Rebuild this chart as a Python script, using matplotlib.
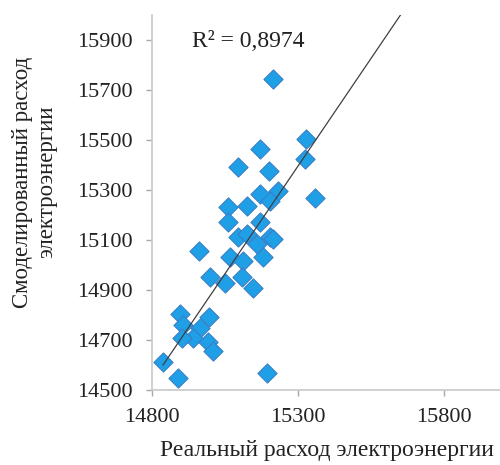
import matplotlib
matplotlib.use("Agg")
import matplotlib.pyplot as plt
import numpy as np

real = [15215, 15329, 15325, 15359, 15171, 15095, 15202, 15232, 15171, 15205,
        15061, 15126, 15061, 15171, 15095, 15126, 15205, 15160, 15215, 14961,
        15068, 15181, 15112, 14999, 15051, 15109, 15147, 14896, 14996, 14906,
        14965, 14941, 14903, 14992, 15009, 14838, 14889, 15195]
model = [15747, 15506, 15425, 15268, 15465, 15393, 15377, 15296, 15284, 15256,
         15232, 15236, 15172, 15172, 15111, 15123, 15111, 15083, 15103, 15055,
         15031, 15031, 15015, 14954, 14930, 14954, 14910, 14806, 14794, 14761,
         14749, 14709, 14709, 14693, 14657, 14613, 14548, 14568]

# linear trendline
trend_slope = 1.721
trend_intercept = -10935.6

x_ticks = [14800, 15300, 15800]
y_ticks = [14500, 14700, 14900, 15100, 15300, 15500, 15700, 15900]
r2_label = "R² = 0,8974"
x_label = "Реальный расход электроэнергии"
y_label = "Смоделированный расход\nэлектроэнергии"

plt.rcParams['font.family'] = ['Liberation Serif', 'DejaVu Serif']

fig = plt.figure(figsize=(5.0, 4.65), dpi=100)
ax = fig.add_axes([0.304, 0.161, 0.70, 0.806])

x = np.array(real, dtype=float)
y = np.array(model, dtype=float)
xl = np.array([x.min(), 16000.0])
ax.plot(xl, trend_slope * xl + trend_intercept, color='#404040', lw=0.9, zorder=3)

ax.scatter(x, y, marker='D', s=95, facecolor='#1E9FE6', edgecolor='#3A7FC8',
           linewidth=0.8, zorder=2)

ax.set_xlim(14800, 16000)
ax.set_ylim(14500, 16000)
ax.set_xticks(x_ticks)
ax.set_yticks(y_ticks)
ax.tick_params(axis='both', labelsize=16, colors='#A8A8A8', labelcolor='#222222',
               length=4, width=1, direction='out')
ax.tick_params(axis='y', pad=10)
ax.tick_params(axis='x', pad=9)
for s in ['top', 'right']:
    ax.spines[s].set_visible(False)
for s in ['left', 'bottom']:
    ax.spines[s].set_color('#C8C8C8')
    ax.spines[s].set_linewidth(1.2)

ax.set_xlabel(x_label, fontsize=17, color='#222222', labelpad=9)
ax.set_ylabel(y_label, fontsize=16.5, color='#222222', linespacing=1.15)
ax.yaxis.set_label_coords(-0.272, 0.555)
ax.text(0.115, 0.93, r2_label, transform=ax.transAxes, fontsize=17,
        color='#222222', va='center', ha='left')

fig.savefig("out.png", dpi=100, facecolor='white')
